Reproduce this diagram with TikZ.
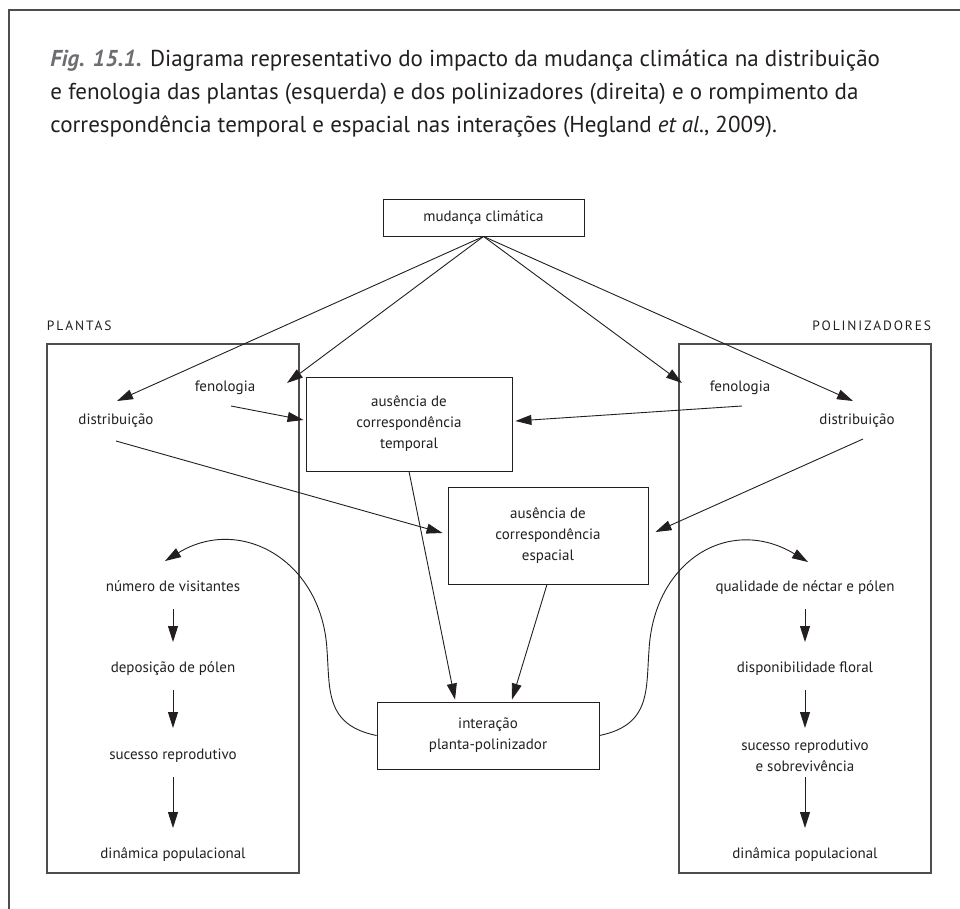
\documentclass[tikz,border=0pt]{standalone}
\usepackage{fontspec}
\setmainfont{PT Sans}
\newfontfamily\titlefont{PT Sans}
\newfontfamily\capsfont[LetterSpace=14]{PT Sans}
\usetikzlibrary{arrows.meta}
\definecolor{ink}{HTML}{231F20}
\definecolor{figgray}{HTML}{6D6E71}
\definecolor{framegray}{HTML}{4D4D4F}

\begin{document}
\begin{tikzpicture}[x=1pt, y=-1pt, color=ink, line width=0.9pt,
        >={Triangle[length=16pt,width=10pt]},
        box/.style={draw, rectangle, inner sep=0pt, align=center, font=\fontsize{15}{21}\selectfont},
        txt/.style={inner sep=0pt, text height=11pt, text depth=3pt, font=\fontsize{15}{21}\selectfont},
        twoline/.style={inner sep=0pt, align=center, font=\fontsize{15}{21}\selectfont},
        titleline/.style={anchor=base west, inner sep=0pt, font=\titlefont\fontsize{23}{33}\selectfont},
        grouplabel/.style={inner sep=0pt, font=\capsfont\fontsize{13.5}{15}\selectfont}]
    \useasboundingbox (0,0) rectangle (960,909);

    % Frame of the figure
    \draw[framegray, line width=1.2pt] (960,10) -- (9,10) -- (9,909);

    % Caption
    \node[titleline] (cap1) at (50,67) {\textcolor{figgray}{\textbf{\textit{Fig. 15.1.}}} Diagrama representativo do impacto da mudança climática na distribuição};
    \node[titleline] (cap2) at (50,100) {e fenologia das plantas (esquerda) e dos polinizadores (direita) e o rompimento da};
    \node[titleline] (cap3) at (50,133) {correspondência temporal e espacial nas interações (Hegland \textit{et al.}, 2009).};

    % The two groups
    \node[draw=framegray, line width=1.1pt, minimum width=252pt, minimum height=529pt] (plantas) at (173,608.5) {};
    \node[draw=framegray, line width=1.1pt, minimum width=252pt, minimum height=529pt] (poliniz) at (805,608.5) {};
    \node[grouplabel, anchor=base west] (lblP) at ([yshift=13pt]plantas.north west) {PLANTAS};
    \node[grouplabel, anchor=base east] (lblZ) at ([yshift=13pt]poliniz.north east) {POLINIZADORES};

    % Central boxes
    \node[box, minimum width=201pt, minimum height=37pt] (clima) at (483.5,217.5) {mudança climática};
    \node[box, minimum width=206pt, minimum height=94pt] (temporal) at (409,424) {ausência de\\correspondência\\temporal};
    \node[box, minimum width=200pt, minimum height=97pt] (espacial) at (548,535.5) {ausência de\\correspondência\\espacial};
    \node[box, minimum width=222pt, minimum height=67pt] (interacao) at (488,735.5) {interação\\planta-polinizador};

    % Labels inside the groups
    \node[txt] (fenL) at (225,387) {fenologia};
    \node[txt] (distL) at (116,420) {distribuição};
    \node[txt] (fenR) at (740,387) {fenologia};
    \node[txt] (distR) at (857,420) {distribuição};

    \node[txt] (visit) at (173,587) {número de visitantes};
    \node[txt] (polen) at (173,668) {deposição de pólen};
    \node[txt] (sucL) at (173,755) {sucesso reprodutivo};
    \node[txt] (dinL) at (173,854) {dinâmica populacional};

    \node[txt] (nectar) at (805,587) {qualidade de néctar e pólen};
    \node[txt] (floral) at (805,668) {disponibilidade floral};
    \node[twoline] (sucR) at (805,755.5) {sucesso reprodutivo\\e sobrevivência};
    \node[txt] (dinR) at (805,854) {dinâmica populacional};

    % Arrows from the climate box
    \draw[->] (clima.south) -- ([xshift=1pt,yshift=19pt]distL.center);
    \draw[->] (clima.south) -- ([xshift=62pt,yshift=4pt]fenL.center);
    \draw[->] (clima.south) -- ([xshift=-58pt,yshift=4pt]fenR.center);
    \draw[->] (clima.south) -- ([xshift=-4pt,yshift=19pt]distR.center);

    % Arrows to the mismatch boxes
    \draw[->] ([xshift=6pt,yshift=-19pt]fenL.center) -- ([xshift=-2pt,yshift=4pt]temporal.west);
    \draw[->] ([xshift=2pt,yshift=-19pt]fenR.center) -- ([xshift=3pt,yshift=3pt]temporal.east);
    \draw[->] ([yshift=-21pt]distL.center) -- ([xshift=-5pt,yshift=2.5pt]espacial.west);
    \draw[->] ([xshift=6pt,yshift=-19pt]distR.center) -- ([xshift=7pt,yshift=3.5pt]espacial.east);

    % Arrows to the interaction
    \draw[->] (temporal.south) -- ([xshift=-33pt,yshift=2pt]interacao.north);
    \draw[->] ([xshift=-1pt]espacial.south) -- ([xshift=24pt,yshift=2pt]interacao.north);

    % Curved arrows back into the groups
    \draw[->] (interacao.west) .. controls (325,725) and (330,690) .. (327,650)
        .. controls (322,560) and (240,515) .. ([xshift=-8pt,yshift=26pt]visit.center);
    \draw[->] (interacao.east) .. controls (651,725) and (646,690) .. (649,650)
        .. controls (654,560) and (730,515) .. ([xshift=3pt,yshift=25pt]nectar.center);

    % Chains inside the groups
    \draw[->] ([yshift=-22pt]visit.center) -- ([yshift=26pt]polen.center);
    \draw[->] ([yshift=-22pt]polen.center) -- ([yshift=27pt]sucL.center);
    \draw[->] ([yshift=-22pt]sucL.center) -- ([yshift=26pt]dinL.center);

    \draw[->] ([yshift=-22pt]nectar.center) -- ([yshift=26pt]floral.center);
    \draw[->] ([yshift=-22pt]floral.center) -- ([yshift=27.5pt]sucR.center);
    \draw[->] ([yshift=-21.5pt]sucR.center) -- ([yshift=26pt]dinR.center);
\end{tikzpicture}
\end{document}
